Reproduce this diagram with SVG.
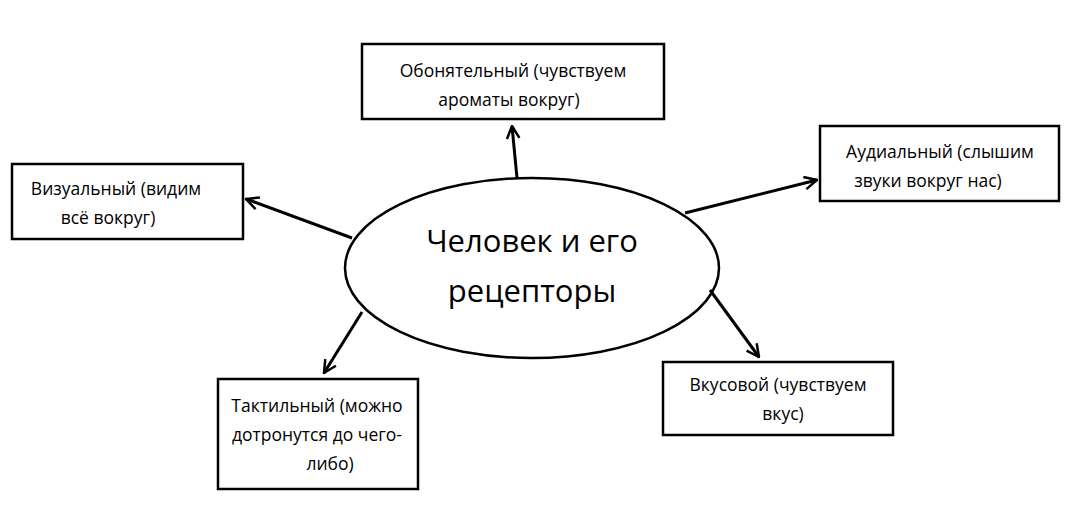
<svg xmlns="http://www.w3.org/2000/svg" width="1080" height="516" viewBox="0 0 1080 516">
<style>
.box{fill:#fff;stroke:#000;stroke-width:2.5}
.t{font-family:"Open Sans","Liberation Sans",sans-serif;font-size:17.5px;fill:#000;text-anchor:middle}
.big{font-size:31px}
.c{stroke:#000;stroke-width:3;fill:none;marker-end:url(#a)}
</style>
<defs><marker id="a" viewBox="0 0 12 12" refX="11" refY="6" markerWidth="5" markerHeight="5" orient="auto" markerUnits="strokeWidth"><path d="M1,1 L11,6 L1,11" fill="none" stroke="#000" stroke-width="2"/></marker></defs>
<rect width="1080" height="516" fill="#fff"/>
<g id="center"><ellipse cx="532" cy="268" rx="187" ry="90" class="box"/>
<text class="t big" x="532" y="252">Человек и его</text><text class="t big" x="532" y="302">рецепторы</text></g>
<g id="n-top"><rect x="362" y="44" width="302" height="75" class="box"/>
<text class="t" x="513" y="77">Обонятельный (чувствуем</text><text class="t" x="509" y="106">ароматы вокруг)</text></g>
<g id="n-left"><rect x="12" y="164" width="231" height="75" class="box"/>
<text class="t" x="116" y="195">Визуальный (видим</text><text class="t" x="108" y="224">всё вокруг)</text></g>
<g id="n-right"><rect x="820" y="126" width="239" height="75" class="box"/>
<text class="t" x="940" y="158">Аудиальный (слышим</text><text class="t" x="928" y="187">звуки вокруг нас)</text></g>
<g id="n-bl"><rect x="218" y="379" width="200" height="110" class="box"/>
<text class="t" x="317" y="412">Тактильный (можно</text><text class="t" x="317" y="441">дотронутся до чего-</text><text class="t" x="330" y="470">либо)</text></g>
<g id="n-br"><rect x="663" y="362" width="230" height="73" class="box"/>
<text class="t" x="778" y="391">Вкусовой (чувствуем</text><text class="t" x="783" y="420">вкус)</text></g>
<g id="connectors">
<line class="c" x1="517" y1="178" x2="512" y2="126"/>
<line class="c" x1="352" y1="238" x2="246" y2="199"/>
<line class="c" x1="685" y1="213" x2="817" y2="180"/>
<line class="c" x1="362" y1="312" x2="324" y2="373"/>
<line class="c" x1="710" y1="290" x2="759" y2="357"/>
</g>
</svg>
